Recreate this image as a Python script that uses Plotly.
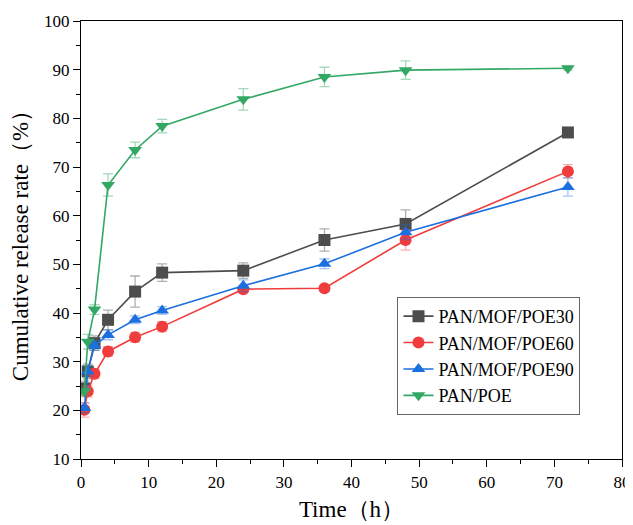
import plotly.graph_objects as go

time_h = [0.5, 1, 2, 4, 8, 12, 24, 36, 48, 72]

poe30 = [24.5, 28.0, 33.8, 38.6, 44.4, 48.3, 48.7, 55.0, 58.3, 77.1]
poe30_err = [1.5, 1.5, 1.5, 2.0, 3.2, 1.8, 1.6, 2.3, 2.9, 0.4]
poe60 = [20.1, 23.9, 27.5, 32.1, 35.0, 37.2, 44.9, 45.1, 55.0, 69.1]
poe60_err = [1.5, 1.2, 1.0, 1.0, 1.0, 1.0, 0.6, 0.5, 2.1, 1.4]
poe90 = [20.5, 28.0, 33.3, 35.5, 38.6, 40.5, 45.6, 50.1, 56.6, 65.9]
poe90_err = [1.0, 1.0, 1.0, 1.0, 0.8, 0.8, 1.2, 1.0, 1.5, 1.9]
panpoe = [23.9, 34.1, 40.7, 66.3, 73.5, 78.4, 83.9, 88.5, 89.9, 90.3]
panpoe_err = [1.0, 1.5, 1.0, 2.3, 1.6, 1.4, 2.2, 2.0, 1.9, 0.4]

names = ["PAN/MOF/POE30", "PAN/MOF/POE60", "PAN/MOF/POE90", "PAN/POE"]
series = [poe30, poe60, poe90, panpoe]
errors = [poe30_err, poe60_err, poe90_err, panpoe_err]
colors = ["#4D4D4D", "#F03C3C", "#1C6FDF", "#33A865"]
err_colors = ["rgba(77,77,77,0.45)", "rgba(240,60,60,0.4)",
              "rgba(28,111,223,0.4)", "rgba(51,168,101,0.45)"]
symbols = ["square", "circle", "triangle-up", "triangle-down"]

FONT = "Times New Roman, Liberation Serif, DejaVu Serif, serif"

fig = go.Figure()
for n, s, e, c, ec, sym in zip(names, series, errors, colors, err_colors, symbols):
    fig.add_trace(go.Scatter(
        x=time_h, y=s, name=n, mode="lines+markers",
        line=dict(color=c, width=1.6),
        marker=dict(symbol=sym, size=12, color=c),
        error_y=dict(type="data", array=e, color=ec, thickness=1.3, width=5),
    ))

axis_common = dict(
    showline=True, linecolor="black", linewidth=1.3, mirror=True,
    ticks="outside", ticklen=7, tickwidth=1.2, tickcolor="black",
    showgrid=False, zeroline=False, automargin=False,
    tickfont=dict(family=FONT, size=17, color="black"),
)

# page has an 8px body margin, so the figure is sized to fill the rest
fig.update_layout(
    width=625, height=517,
    margin=dict(l=73, r=11, t=13, b=66),
    paper_bgcolor="white", plot_bgcolor="white",
    font=dict(family=FONT, color="black"),
    showlegend=True,
    legend=dict(
        x=0.585, y=0.37, xanchor="left", yanchor="top",
        bgcolor="white", bordercolor="#666666", borderwidth=1,
        font=dict(family=FONT, size=18, color="black"),
        tracegroupgap=0,
    ),
)
fig.update_xaxes(
    range=[0, 80], dtick=10, tick0=0,
    minor=dict(dtick=5, ticks="outside", ticklen=4, tickcolor="black"),
    title=dict(text="Time（h）", font=dict(family=FONT, size=23), standoff=10),
    **axis_common,
)
fig.update_yaxes(
    range=[10, 100], dtick=10, tick0=0,
    minor=dict(dtick=5, ticks="outside", ticklen=4, tickcolor="black"),
    title=dict(text="Cumulative release rate（%）", font=dict(family=FONT, size=23), standoff=9),
    **axis_common,
)

fig.write_html("out.html")
